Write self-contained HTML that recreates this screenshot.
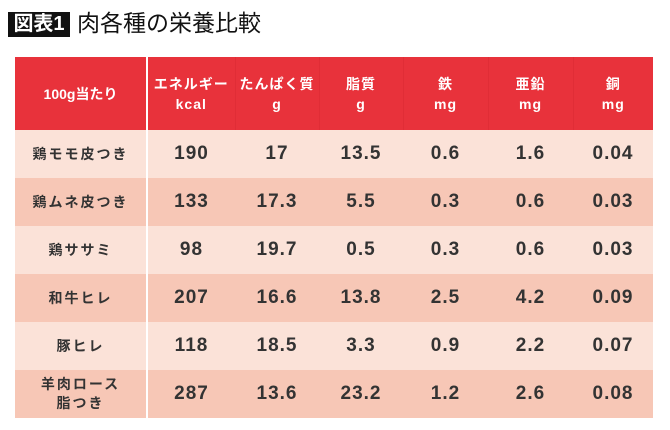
<!DOCTYPE html>
<html><head><meta charset="utf-8"><style>
body{margin:0;width:670px;height:430px;background:#fff;position:relative;overflow:hidden;font-family:"Liberation Sans","Noto Sans CJK JP",sans-serif;}
.badge{position:absolute;left:8px;top:12px;width:62px;height:25px;background:#111;color:#fff;font-size:20px;font-weight:bold;line-height:25px;text-align:center;}
.title{position:absolute;left:77px;top:8px;font-size:23px;color:#111;line-height:30px;}
table{position:absolute;left:15px;top:57px;border-collapse:collapse;width:638px;}
th{background:#e8323b;color:#fff;font-size:14px;font-weight:bold;height:73px;padding:0;line-height:20px;border-left:1px solid #e02d36;letter-spacing:1px;}
td{height:48px;padding:0;text-align:center;font-size:19px;font-weight:bold;color:#333;letter-spacing:1px;}
td.l{font-size:14px;color:#333;line-height:19px;letter-spacing:2px;}
tr.a td{background:#fbe2d8;} tr.b td{background:#f7c7b6;}
.first{border-right:2px solid #fff;}
</style></head><body>
<div class="badge">図表1</div>
<div class="title">肉各種の栄養比較</div>
<table>
<colgroup><col style="width:132px"><col style="width:88px"><col style="width:84px"><col style="width:84px"><col style="width:85px"><col style="width:85px"><col style="width:80px"></colgroup>
<tr>
<th class="first" style="border-left:none;letter-spacing:0">100g当たり</th>
<th>エネルギー<br>kcal</th>
<th>たんぱく質<br>g</th>
<th>脂質<br>g</th>
<th>鉄<br>mg</th>
<th>亜鉛<br>mg</th>
<th>銅<br>mg</th>
</tr>
<tr class="a"><td class="l first">鶏モモ皮つき</td><td>190</td><td>17</td><td>13.5</td><td>0.6</td><td>1.6</td><td>0.04</td></tr>
<tr class="b"><td class="l first">鶏ムネ皮つき</td><td>133</td><td>17.3</td><td>5.5</td><td>0.3</td><td>0.6</td><td>0.03</td></tr>
<tr class="a"><td class="l first">鶏ササミ</td><td>98</td><td>19.7</td><td>0.5</td><td>0.3</td><td>0.6</td><td>0.03</td></tr>
<tr class="b"><td class="l first">和牛ヒレ</td><td>207</td><td>16.6</td><td>13.8</td><td>2.5</td><td>4.2</td><td>0.09</td></tr>
<tr class="a"><td class="l first">豚ヒレ</td><td>118</td><td>18.5</td><td>3.3</td><td>0.9</td><td>2.2</td><td>0.07</td></tr>
<tr class="b"><td class="l first">羊肉ロース<br>脂つき</td><td>287</td><td>13.6</td><td>23.2</td><td>1.2</td><td>2.6</td><td>0.08</td></tr>
</table>
</body></html>
